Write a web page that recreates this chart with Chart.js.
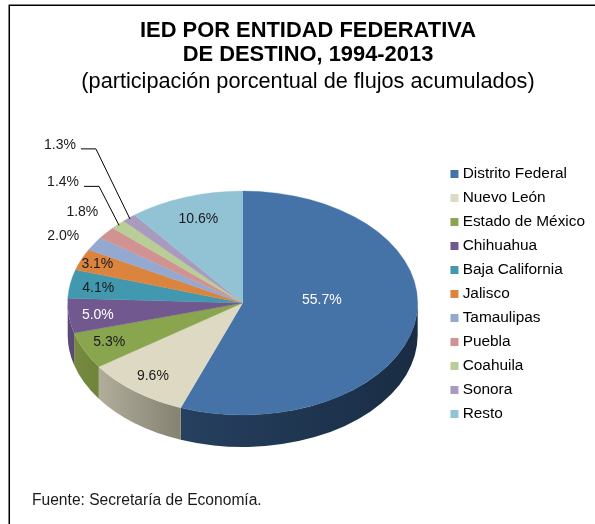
<!DOCTYPE html>
<html lang="es">
<head>
<meta charset="utf-8">
<style>html,body{margin:0;padding:0;background:#fff}#w{position:relative;width:595px;height:524px}canvas{display:block}</style>
<script src="https://cdn.jsdelivr.net/npm/chart.js@4/dist/chart.umd.min.js"></script>
</head>
<body>
<div id="w"><canvas id="c" width="595" height="524"></canvas></div>
<script>
const categories = ["Distrito Federal","Nuevo León","Estado de México","Chihuahua","Baja California","Jalisco","Tamaulipas","Puebla","Coahuila","Sonora","Resto"];
const values = [55.7,9.6,5.3,5.0,4.1,3.1,2.0,1.8,1.4,1.3,10.6];
const colors = ["#4572A7","#DDD9C3","#89A54E","#71588F","#4198AF","#DB843D","#93A9CF","#D19392","#B9CD96","#A99BBD","#92C3D5"];
const sideLeft = ["#26405f","#b0ad9b","#778a41","#5e4a78","#37808f","#b96f33","#7c8fae","#b07c7b","#9cad7e","#8f83a0","#7ba4b3"];
const sideRight = ["#192c43","#858272","#6f8339","#5a4775","#37808f","#b96f33","#7c8fae","#b07c7b","#9cad7e","#8f83a0","#7ba4b3"];
const labelColors = ["#ffffff","#1a1a1a","#1a1a1a","#ffffff","#1a1a1a","#1a1a1a","#1a1a1a","#1a1a1a","#1a1a1a","#1a1a1a","#1a1a1a"];
const labelOffsets = [[-93,-23],[18,-15],[25,-8],[29,-1],[28,4],[16,5],[-31,-8],[-24,-21],[-55,-42],[-69,-73],[13,22]];
const leaderIndexes = [8,9];
const titleLines = ["IED POR ENTIDAD FEDERATIVA","DE DESTINO, 1994-2013"];
const subtitleText = "(participación porcentual de flujos acumulados)";
const sourceText = "Fuente: Secretaría de Economía.";

const FONT = '"Liberation Sans", Arial, sans-serif';
const SQUASH = 0.64, DEPTH = 32, FACE_SHIFT = 10;

function geometry(chart){
  const a = chart.getDatasetMeta(0).data[0];
  return {cx:a.x, cy:293 + FACE_SHIFT, rx:a.outerRadius, ry:a.outerRadius*SQUASH, y0:a.y};
}
const piePlugin = {
  id:'pie3d',
  afterLayout(chart){
    chart.legend.top += 51; chart.legend.bottom += 51;
    chart.boxes.forEach(b=>{ if (b.options && b.options.text){ b.left = 21; b.right = 595; } });
  },
  beforeDraw(chart){
    const c = chart.ctx;
    c.save();
    c.fillStyle='#fff'; c.fillRect(0,0,chart.width,chart.height);
    c.strokeStyle='#000'; c.lineWidth=1.5;
    c.beginPath(); c.moveTo(9.25,chart.height); c.lineTo(9.25,5.25); c.lineTo(chart.width,5.25); c.stroke();
    c.restore();
  },
  beforeDatasetsDraw(chart){
    const c = chart.ctx, g = geometry(chart);
    const arcs = chart.getDatasetMeta(0).data;
    arcs.forEach((arc,i)=>{
      const b0 = Math.max(arc.startAngle,0), b1 = Math.min(arc.endAngle,Math.PI);
      if (b1 <= b0) return;
      const xa = g.cx + g.rx*Math.cos(b0), xb = g.cx + g.rx*Math.cos(b1);
      const grad = c.createLinearGradient(Math.min(xa,xb),0,Math.max(xa,xb),0);
      grad.addColorStop(0,sideLeft[i]); grad.addColorStop(1,sideRight[i]);
      c.save();
      c.fillStyle = grad;
      c.beginPath();
      c.ellipse(g.cx,g.cy,g.rx,g.ry,0,b0,b1,false);
      c.ellipse(g.cx,g.cy+DEPTH,g.rx,g.ry,0,b1,b0,true);
      c.closePath();
      c.fill();
      c.restore();
    });
    c.save();
    c.translate(g.cx,g.cy); c.scale(1,SQUASH); c.translate(-g.cx,-g.y0);
  },
  afterDatasetsDraw(chart){
    const c = chart.ctx;
    c.restore();
    const g = geometry(chart);
    const arcs = chart.getDatasetMeta(0).data;
    c.save();
    c.font = '14px '+FONT; c.textAlign='center'; c.textBaseline='middle';
    arcs.forEach((arc,i)=>{
      const mid=(arc.startAngle+arc.endAngle)/2;
      const ax=g.cx+g.rx*Math.cos(mid), ay=g.cy+g.ry*Math.sin(mid);
      const lx=ax+labelOffsets[i][0], ly=ay+labelOffsets[i][1];
      c.fillStyle=labelColors[i];
      c.fillText(values[i].toFixed(1)+'%',lx,ly);
      if (leaderIndexes.includes(i)){
        c.strokeStyle='#000'; c.lineWidth=1;
        c.beginPath();
        c.moveTo(lx+21,ly+4); c.lineTo(lx+36,ly+4); c.lineTo(ax+1,ay+1); c.stroke();
      }
    });
    c.textAlign='left'; c.fillStyle='#1a1a1a'; c.font='15.6px '+FONT;
    c.fillText(sourceText,32,501);
    c.restore();
  }
};
const base = Chart.overrides.doughnut.plugins.legend.labels.generateLabels;
new Chart(document.getElementById('c'),{
  type:'pie',
  data:{labels:categories,datasets:[{data:values,backgroundColor:colors,borderColor:colors,borderWidth:0.4,radius:175}]},
  options:{
    responsive:false,animation:false,
    layout:{padding:{left:40,right:0,top:0,bottom:38}},
    plugins:{
      tooltip:{enabled:false},
      title:{display:true,text:titleLines,color:'#000',font:{family:FONT,size:21.9,weight:'bold',lineHeight:1.14},padding:{top:18,bottom:2}},
      subtitle:{display:true,text:subtitleText,color:'#000',font:{family:FONT,size:21.7,weight:'normal',lineHeight:1.15},padding:{top:0,bottom:10}},
      legend:{position:'right',align:'center',labels:{
        color:'#000',font:{family:FONT,size:15.4},boxWidth:1,boxHeight:1,padding:8.6,
        generateLabels(chart){return base(chart).map(l=>({...l,lineWidth:7,strokeStyle:l.fillStyle}));}
      }}
    }
  },
  plugins:[piePlugin]
});
</script>
</body>
</html>
